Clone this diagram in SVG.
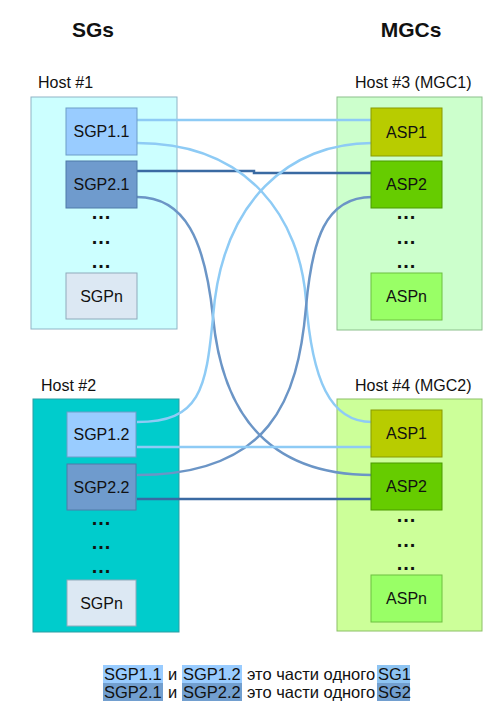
<svg xmlns="http://www.w3.org/2000/svg" width="500" height="707" viewBox="0 0 500 707">
<style>
text{font-family:"Liberation Sans",Arial,sans-serif;fill:#111}
.title{font-size:21px;font-weight:bold;text-anchor:middle}
.hl{font-size:16px}
.lbl{font-size:16px;text-anchor:middle}
.dots{font-size:20px;font-weight:bold;text-anchor:middle;letter-spacing:1px}
.leg{font-size:16.5px}
.h1{fill:#ccffff;stroke:#8fb4c6;stroke-width:1}
.h2{fill:#00cccc;stroke:#2a9ea4;stroke-width:1}
.h3{fill:#ccffcc;stroke:#8cbf8c;stroke-width:1}
.h4{fill:#ccff99;stroke:#8cbf66;stroke-width:1}
.sgp1{fill:#99ccff;stroke:#6d9dc8;stroke-width:1}
.sgp2{fill:#6f9bcd;stroke:#4f7aa8;stroke-width:1}
.sgpn{fill:#dce8f3;stroke:#8faabb;stroke-width:1}
.asp1{fill:#b8cc00;stroke:#889a00;stroke-width:1}
.asp2{fill:#66cc00;stroke:#4a9a00;stroke-width:1}
.aspn{fill:#99ff66;stroke:#6cc040;stroke-width:1}
.c1{fill:none;stroke:#8ecbf5;stroke-width:2.5}
.c2{fill:none;stroke:#6b95c6;stroke-width:2.5}
.c3{fill:none;stroke:#3a6aa2;stroke-width:2.5}
</style>
<rect width="500" height="707" fill="#ffffff"/>
<text class="title" x="93" y="37">SGs</text>
<text class="title" x="411" y="37">MGCs</text>

<g id="host1">
<text class="hl" x="38" y="88">Host #1</text>
<rect class="h1" x="31" y="97" width="146" height="232"/>
</g>
<g id="host3">
<text class="hl" x="355" y="88">Host #3 (MGC1)</text>
<rect class="h3" x="337" y="97" width="145" height="233"/>
</g>
<g id="host2">
<text class="hl" x="41" y="391">Host #2</text>
<rect class="h2" x="33" y="399" width="146" height="233"/>
</g>
<g id="host4">
<text class="hl" x="355" y="391">Host #4 (MGC2)</text>
<rect class="h4" x="337" y="399" width="145" height="232"/>
</g>

<g id="connectors">
<line class="c1" x1="137" y1="120" x2="371" y2="120"/>
<path class="c3" d="M137,171 H254 V173 H371"/>
<path class="c1" d="M137,143 C250,143 300,220 306,300 C312,380 330,422 372,422"/>
<path class="c2" d="M137,197 C185,197 205,240 213,317 C220,390 250,475 372,475"/>
<path class="c1" d="M372,143 C290,143 222,200 213,317 C206,390 200,422 137,422"/>
<path class="c2" d="M372,197 C325,197 312,240 306,307 C298,400 270,475 137,475"/>
<line class="c1" x1="137" y1="447" x2="371" y2="447"/>
<line class="c3" x1="137" y1="499" x2="371" y2="499"/>
</g>

<g id="sgp11"><rect class="sgp1" x="66" y="108" width="71" height="47"/><text class="lbl" x="101.5" y="137">SGP1.1</text></g>
<g id="sgp21"><rect class="sgp2" x="66" y="161" width="71" height="47"/><text class="lbl" x="101.5" y="190">SGP2.1</text></g>
<g id="dots1"><text class="dots" x="101.5" y="219">...</text><text class="dots" x="101.5" y="244">...</text><text class="dots" x="101.5" y="268">...</text></g>
<g id="sgpn1"><rect class="sgpn" x="66" y="273" width="71" height="46"/><text class="lbl" x="101.5" y="302">SGPn</text></g>

<g id="asp1a"><rect class="asp1" x="371" y="108" width="71" height="48"/><text class="lbl" x="406.5" y="138">ASP1</text></g>
<g id="asp2a"><rect class="asp2" x="371" y="161" width="71" height="47"/><text class="lbl" x="406.5" y="190">ASP2</text></g>
<g id="dots3"><text class="dots" x="406.5" y="219">...</text><text class="dots" x="406.5" y="244">...</text><text class="dots" x="406.5" y="268">...</text></g>
<g id="aspna"><rect class="aspn" x="371" y="273" width="71" height="47"/><text class="lbl" x="406.5" y="302">ASPn</text></g>

<g id="sgp12"><rect class="sgp1" x="67" y="412" width="69" height="45"/><text class="lbl" x="101.5" y="440">SGP1.2</text></g>
<g id="sgp22"><rect class="sgp2" x="67" y="464" width="69" height="46"/><text class="lbl" x="101.5" y="493">SGP2.2</text></g>
<g id="dots2"><text class="dots" x="101.5" y="525">...</text><text class="dots" x="101.5" y="549">...</text><text class="dots" x="101.5" y="573">...</text></g>
<g id="sgpn2"><rect class="sgpn" x="67" y="580" width="69" height="46"/><text class="lbl" x="101.5" y="609">SGPn</text></g>

<g id="asp1b"><rect class="asp1" x="371" y="410" width="71" height="47"/><text class="lbl" x="406.5" y="439">ASP1</text></g>
<g id="asp2b"><rect class="asp2" x="371" y="463" width="71" height="47"/><text class="lbl" x="406.5" y="492">ASP2</text></g>
<g id="dots4"><text class="dots" x="406.5" y="522">...</text><text class="dots" x="406.5" y="547">...</text><text class="dots" x="406.5" y="570">...</text></g>
<g id="aspnb"><rect class="aspn" x="371" y="575" width="71" height="47"/><text class="lbl" x="406.5" y="604">ASPn</text></g>

<g id="legend">
<rect x="103" y="665" width="60" height="18" fill="#99ccff"/>
<rect x="182" y="665" width="60" height="18" fill="#99ccff"/>
<rect x="377" y="665" width="33" height="18" fill="#8ec4f2"/>
<rect x="103" y="683" width="60" height="18" fill="#729fcf"/>
<rect x="182" y="683" width="60" height="18" fill="#729fcf"/>
<rect x="377" y="683" width="33" height="18" fill="#729fcf"/>
<text class="leg" x="104" y="680">SGP1.1</text>
<text class="leg" x="168" y="680">и</text>
<text class="leg" x="183" y="680">SGP1.2</text>
<text class="leg" x="247" y="680">это части одного</text>
<text class="leg" x="378" y="680">SG1</text>
<text class="leg" x="104" y="698">SGP2.1</text>
<text class="leg" x="168" y="698">и</text>
<text class="leg" x="183" y="698">SGP2.2</text>
<text class="leg" x="247" y="698">это части одного</text>
<text class="leg" x="378" y="698">SG2</text>
</g>
</svg>
